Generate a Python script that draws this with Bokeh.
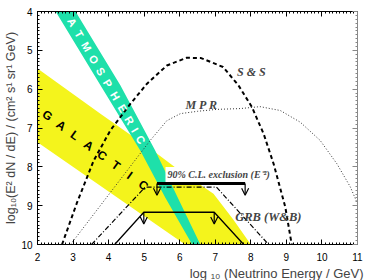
import math
from bokeh.plotting import figure
from bokeh.models import (Range1d, LinearAxis, SingleIntervalTicker, CustomJSTickFormatter,
                          Label, Arrow, OpenHead, Title)
from bokeh.core.properties import value
from bokeh.embed import file_html
from bokeh.resources import INLINE

# ---------------- data: x = log10(E/GeV), y = log10(E^2 dN/dE) ----------------
gal_upper_x = [2.0, 3.77, 5.3, 6.0, 6.95, 7.5, 8.0]
gal_upper_y = [5.47, 6.63, 7.62, 8.1, 8.69, 9.35, 10.0]
gal_lower_x = [6.15, 2.0]
gal_lower_y = [10.0, 7.37]

atm_left_x = [2.51, 3.77, 4.89, 5.6, 6.35]
atm_left_y = [4.0, 5.9, 7.58, 8.8, 10.0]
atm_right_x = [3.07, 4.33, 5.31, 5.95, 6.58]
atm_right_y = [4.0, 5.9, 7.58, 8.8, 10.0]

ss_x = [2.69, 3.1, 3.58, 4.05, 4.61, 5.08, 5.64, 6.2, 6.6, 7.22, 7.65, 8.03, 8.36, 8.64, 8.97, 9.15]
ss_y = [10.0, 8.95, 7.84, 7.06, 6.38, 5.86, 5.39, 5.19, 5.2, 5.43, 5.9, 6.46, 7.15, 7.92, 9.04, 10.0]

mpr_x = [2.93, 4.0, 5.17, 5.64, 6.02, 6.5, 7.05, 7.7, 8.26, 8.83, 9.39, 9.95, 10.42, 10.8, 11.0]
mpr_y = [10.0, 8.72, 7.32, 6.81, 6.63, 6.57, 6.52, 6.5, 6.45, 6.55, 6.85, 7.32, 7.92, 8.52, 8.95]

grb_wb_x = [3.52, 5.03, 7.03, 8.5]
grb_wb_y = [10.0, 8.52, 8.52, 10.0]

cl_x = [5.36, 7.84]
cl_y = [8.43, 8.43]

grb_lim_x = [4.17, 4.99, 6.97, 7.8]
grb_lim_y = [10.0, 9.17, 9.17, 10.0]
grb_arrow_x = [4.99, 6.97]

# ---------------- figure ----------------
p = figure(width=392, height=280, output_backend="svg", toolbar_location=None,
           x_range=Range1d(2, 11), y_range=Range1d(10, 4),
           min_border_left=37, min_border_right=35, min_border_top=11, min_border_bottom=36)
p.title.visible = False
p.grid.visible = False
p.outline_line_color = "black"
p.background_fill_color = "white"
p.border_fill_color = "white"

def style_axis(ax, labels=True):
    ax.major_tick_in = 5
    ax.major_tick_out = 0
    ax.minor_tick_in = 2
    ax.minor_tick_out = 0
    ax.axis_line_color = "black"
    ax.major_tick_line_color = "black"
    ax.minor_tick_line_color = "black"
    if labels:
        ax.major_label_text_font = "Liberation Sans"
        ax.major_label_text_font_size = "10px"
        ax.major_label_text_color = "black"
        ax.major_label_standoff = 5
    else:
        ax.formatter = CustomJSTickFormatter(code="return ''")
        ax.major_label_text_font_size = "1px"
        ax.major_label_standoff = 0

p.xaxis.ticker = SingleIntervalTicker(interval=1, num_minor_ticks=10)
p.yaxis.ticker = SingleIntervalTicker(interval=1, num_minor_ticks=10)
style_axis(p.xaxis[0])
style_axis(p.yaxis[0])
p.xaxis.major_label_standoff = 8

p.yaxis.axis_label = "log\u2081\u2080(E\u00b2 dN / dE) / (cm\u00b2 s\u00b9 sr\u00b9 GeV)"
p.yaxis.axis_label_text_font = "Liberation Sans"
p.yaxis.axis_label_text_font_style = "normal"
p.yaxis.axis_label_text_font_size = "12.5px"
p.yaxis.axis_label_standoff = 0

top = LinearAxis(ticker=SingleIntervalTicker(interval=1, num_minor_ticks=10))
right = LinearAxis(ticker=SingleIntervalTicker(interval=1, num_minor_ticks=10))
style_axis(top, labels=False)
style_axis(right, labels=False)
right.major_tick_line_color = "#888888"
right.minor_tick_line_color = "#888888"
right.axis_line_color = "#888888"
p.add_layout(top, "above")
p.add_layout(right, "right")

p.add_layout(Title(text="log \u2081\u2080 (Neutrino Energy / GeV)", align="right",
                   text_font="Liberation Sans", text_font_style="normal",
                   text_font_size="13px", standoff=0, offset=-6), "below")

# bands
p.patch(gal_upper_x + gal_lower_x, gal_upper_y + gal_lower_y,
        fill_color="#F4F41C", line_color=None)
p.patch(atm_left_x + atm_right_x[::-1], atm_left_y + atm_right_y[::-1],
        fill_color="#1EE0AA", line_color=None)

# model curves
p.line(ss_x, ss_y, line_color="black", line_width=2, line_dash="4 3")
p.line(mpr_x, mpr_y, line_color="#333333", line_width=1, line_dash="1 2")
p.line(grb_wb_x, grb_wb_y, line_color="black", line_width=1.2, line_dash="5 2 1 2")

# limits
p.line(grb_lim_x, grb_lim_y, line_color="black", line_width=1.3)
p.line(cl_x, cl_y, line_color="black", line_width=3)
arrow_len = 0.3
for xa in cl_x:
    p.add_layout(Arrow(end=OpenHead(size=7, line_width=1.2), line_width=1.2,
                       x_start=xa, y_start=cl_y[0], x_end=xa, y_end=cl_y[0] + arrow_len))
for xa in grb_arrow_x:
    p.add_layout(Arrow(end=OpenHead(size=7, line_width=1.2), line_width=1.2,
                       x_start=xa, y_start=grb_lim_y[1], x_end=xa, y_end=grb_lim_y[1] + arrow_len))

# band letters
gal_letters = list("GALACTIC")
gal_x = [2.28 + 0.385 * i for i in range(len(gal_letters))]
gal_y = [6.68 + 0.257 * i for i in range(len(gal_letters))]
p.text(gal_x, gal_y, text=gal_letters, angle=-36, angle_units="deg",
       text_font=value("Liberation Sans"), text_font_style="bold", text_font_size="12px",
       text_color="black", text_align="center", text_baseline="middle")

atm_letters = list("ATMOSPHERIC")
atm_t = [0, 1, 2.05, 3.1, 4.1, 5.1, 6.15, 7.2, 8.2, 9.0, 9.8]
atm_x = [2.975 + 0.1966 * t for t in atm_t]
atm_y = [4.275 + 0.3089 * t for t in atm_t]
p.text(atm_x, atm_y, text=atm_letters, angle=-60, angle_units="deg",
       text_font=value("Liberation Sans"), text_font_style="bold", text_font_size="11px",
       text_color="white", text_align="center", text_baseline="middle")

# labels
serif = "Liberation Serif"
p.add_layout(Label(x=7.61, y=5.56, text="S & S", text_font=serif, text_font_style="bold italic",
                   text_font_size="12px", text_baseline="middle", text_align="left"))
p.add_layout(Label(x=6.16, y=6.42, text="M P R", text_font=serif, text_font_style="bold italic",
                   text_font_size="12px", text_baseline="middle", text_align="left"))
p.add_layout(Label(x=7.56, y=9.28, text="GRB (W&B)", text_font=serif, text_font_style="bold italic",
                   text_font_size="12.5px", text_baseline="middle", text_align="left"))
p.add_layout(Label(x=5.6, y=8.2, text="90% C.L. exclusion (E\u207b\u00b2)", text_font=serif,
                   text_font_style="bold italic", text_font_size="10px", text_baseline="middle",
                   text_align="left", background_fill_color="white", padding=2))

open("out.html", "w").write(file_html(p, INLINE))
